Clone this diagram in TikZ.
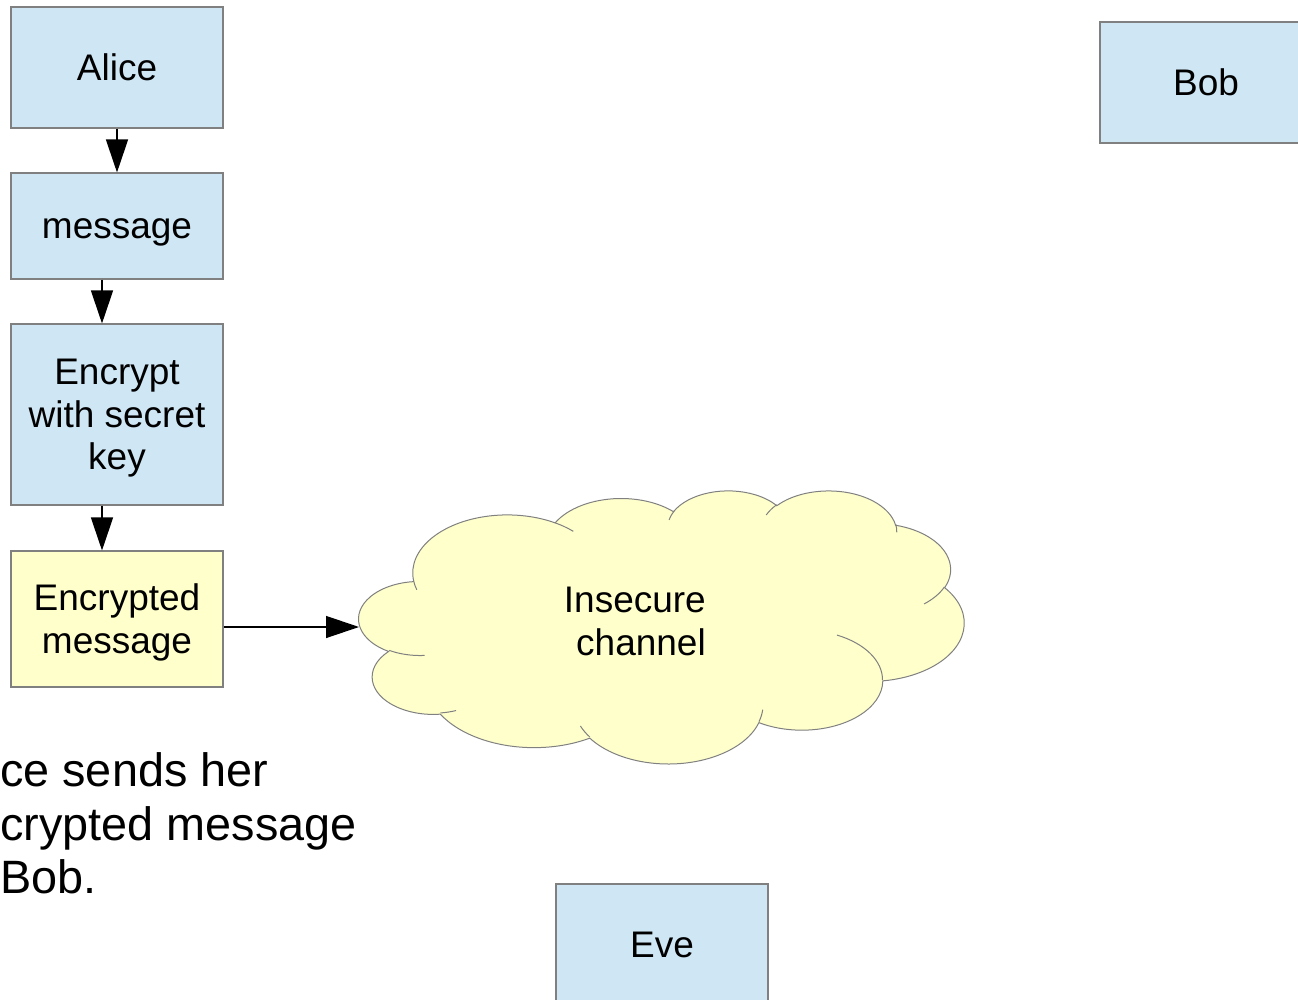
\documentclass[tikz,border=0pt]{standalone}
\usepackage{fontspec}
\setmainfont{Liberation Sans}
\usetikzlibrary{arrows.meta}
\definecolor{boxblue}{HTML}{CFE7F5}
\definecolor{paleyellow}{HTML}{FFFFCC}
\definecolor{edgegray}{HTML}{808080}
% line struts matching the ascent/descent of the sans font
\newcommand{\boxstrut}{\rule[-7.8pt]{0pt}{41.3pt}}
\newcommand{\notestrut}{\rule[-9.9pt]{0pt}{52.3pt}}

% elliptic arc given by radii, start angle and sweep, both angles measured
% as seen from the centre (converted to parametric angles for TikZ)
\tikzset{puff/.style args={#1/#2/#3/#4}{insert path={
  arc[start angle={atan2(#1*sin(#3),#2*cos(#3))},
      delta angle={mod(atan2(#1*sin(#3+#4),#2*cos(#3+#4))-atan2(#1*sin(#3),#2*cos(#3))+720,360)},
      x radius=#1, y radius=#2]}}}

\begin{document}
\begin{tikzpicture}[x=1pt,y=-1pt,
  stepbox/.style={draw=edgegray, line width=1.1pt, minimum width=212pt,
    inner sep=0pt, align=center, font=\fontsize{37}{42.5}\selectfont},
  bluebox/.style={stepbox, fill=boxblue},
  yellowbox/.style={stepbox, fill=paleyellow},
  flow/.style={draw=black, line width=1.3pt, -{Triangle[length=33pt,width=22pt]}},
  cloudline/.style={draw=edgegray, line width=1pt},
  cloudtext/.style={inner sep=0pt, align=right, font=\fontsize{37}{42.5}\selectfont},
  note/.style={inner sep=0pt, align=left, font=\fontsize{46.8}{53.8}\selectfont},
]
\clip (0,0) rectangle (1298,1000);

% Alice's side
\node[bluebox, minimum height=121pt] (alice) at (117,67.5) {\boxstrut Alice};
\node[bluebox, minimum height=106pt] (msg) at (117,226) {\boxstrut message};
\node[bluebox, minimum height=181pt] (enc) at (117,414.5)
  {\boxstrut Encrypt\\\boxstrut with secret\\\boxstrut key};
\node[yellowbox, minimum height=136pt] (encmsg) at (117,619)
  {\boxstrut Encrypted\\\boxstrut message};

% the other parties
\node[bluebox, minimum height=121pt] (bob) at (1206,82.5) {\boxstrut Bob};
\node[bluebox, minimum height=121pt] (eve) at (662,944.5) {\boxstrut Eve};

% insecure channel cloud (43.2 x 43.2 design grid)
\begin{scope}[shift={(359,490)}, x=14.0046pt, y=-6.3194pt]
\path[cloudline, fill=paleyellow] (3.9,14.37)
  [puff=6.753/9.19/-190.4875/123.7805]
  [puff=5.333/7.267/-144.1024/89.9452]
  [puff=4.365/5.945/-145.8079/99.7230]
  [puff=4.857/6.595/-130.9861/117.2417]
  [puff=5.333/7.273/-78.7089/109.0269]
  [puff=6.775/9.22/-46.2673/130.269]
  [puff=5.785/7.867/0.625/114.0333]
  [puff=6.752/9.215/22.4516/115.1726]
  [puff=7.72/10.543/66.2426/75.7110]
  [puff=4.36/5.918/-274.9421/146.7356]
  [puff=4.345/5.945/-246.8285/152.5189]
  -- cycle;
% inner puff strokes
\draw[cloudline] (4.693,26.177) [puff=4.345/5.945/86.742/26.4295];
\draw[cloudline] (6.928,34.899) [puff=4.36/5.918/73.6105/11.4475];
\draw[cloudline] (16.478,39.09) [puff=6.752/9.215/137.6241/14.0811];
\draw[cloudline] (28.827,34.751) [puff=6.752/9.215/6.4533/15.9984];
\draw[cloudline] (34.129,22.954) [puff=5.785/7.867/-70.2924/70.9174];
\draw[cloudline] (41.798,15.354) [puff=5.333/7.273/30.318/27.7515];
\draw[cloudline] (38.324,5.426) [puff=4.857/6.595/-13.7443/14.8589];
\draw[cloudline] (29.078,3.952) [puff=4.857/6.595/-149.1815/18.1954];
\draw[cloudline] (22.141,4.72) [puff=4.365/5.945/-163.4943/17.6864];
\draw[cloudline] (14,5.192) [puff=6.753/9.19/-66.707/12.3194];
\draw[cloudline] (4.127,15.789) [puff=6.753/9.19/157.6544/11.8582];
\end{scope}
\coordinate (cloudW) at (359,627);
\node[cloudtext, anchor=east] (channel) at (706,621) {\boxstrut Insecure\\\boxstrut channel};

% connectors
\draw[flow] (alice.south) -- (msg.north);
\draw[flow] ([xshift=-15pt]msg.south) -- ([xshift=-15pt]enc.north);
\draw[flow] ([xshift=-15pt]enc.south) -- ([xshift=-15pt]encmsg.north);
\draw[flow] ([yshift=-8pt]encmsg.east) -- (cloudW);

% caption
\node[note, anchor=north west] (caption) at (0,743.6)
  {\notestrut ce sends her\\\notestrut crypted message\\\notestrut Bob.};
\end{tikzpicture}
\end{document}
